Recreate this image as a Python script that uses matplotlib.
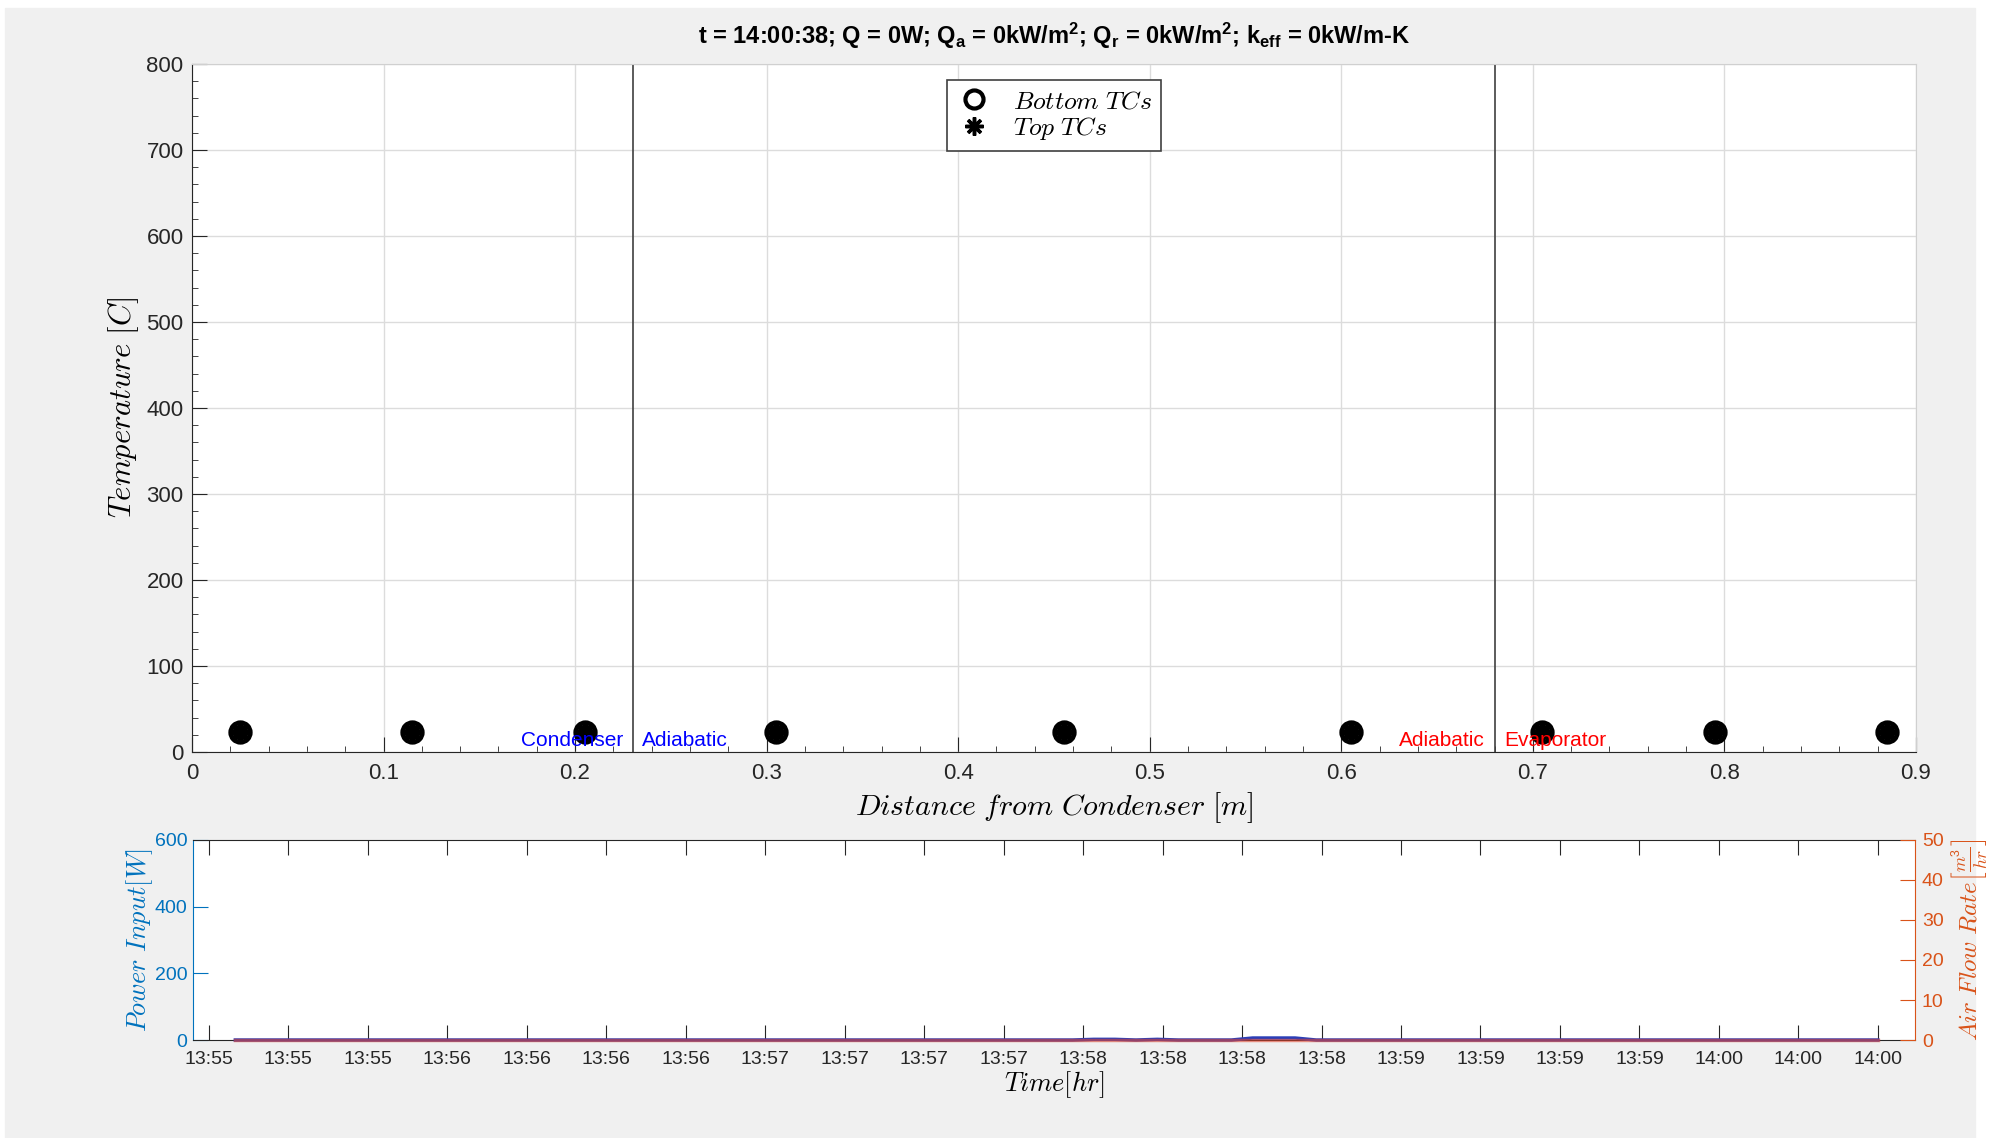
import matplotlib.pyplot as plt
from matplotlib.patches import Rectangle
from matplotlib.lines import Line2D
from matplotlib.ticker import MultipleLocator, FixedLocator, FuncFormatter

plt.rcParams['font.family'] = ['Liberation Sans', 'DejaVu Sans']
plt.rcParams['mathtext.fontset'] = 'cm'
plt.rcParams['mathtext.default'] = 'regular'

# thermocouple positions along the pipe [m] and readings [C]
tc_pos = [0.025, 0.115, 0.205, 0.305, 0.455, 0.605, 0.705, 0.795, 0.885]
bottom_tc = [23, 23, 23, 23, 23, 23, 23, 23, 23]
top_tc = [23, 23, 23, 23, 23, 23, 23, 23, 23]
section_bounds = [0.23, 0.68]

# power / air flow history
trace_times = ['13:55:20', '13:57:58', '13:58:02', '13:58:06', '13:58:10',
               '13:58:14', '13:58:18', '13:58:28', '13:58:32', '13:58:40',
               '13:58:44', '14:00:30']
power_w = [0, 0, 2, 2, 0, 2, 0, 0, 6, 6, 0, 0]
air_flow = [0, 0, 0, 0, 0, 0, 0, 0, 0, 0, 0, 0]
time_ticks = ['13:55:15', '13:55:30', '13:55:45', '13:56:00', '13:56:15',
              '13:56:30', '13:56:45', '13:57:00', '13:57:15', '13:57:30',
              '13:57:45', '13:58:00', '13:58:15', '13:58:30', '13:58:45',
              '13:59:00', '13:59:15', '13:59:30', '13:59:45', '14:00:00',
              '14:00:15', '14:00:30']
time_window = ['13:55:12', '14:00:37']

title = ('t = 14:00:38; Q = 0W; Q$_a$ = 0kW/m$^2$; Q$_r$ = 0kW/m$^2$; '
         'k$_{eff}$ = 0kW/m-K')


def secs(s):
    h, m, sec = (int(v) for v in s.split(':'))
    return h * 3600 + m * 60 + sec


def hhmm(v, pos=None):
    v = int(round(v))
    return '%02d:%02d' % (v // 3600, (v % 3600) // 60)


dark = '#262626'
blue = '#0072BD'
orange = '#D95319'

fig = plt.figure(figsize=(20.1, 11.38), dpi=100)
fig.patch.set_facecolor('white')
fig.patches.append(Rectangle((5 / 2010, 0), 1970 / 2010, 1130 / 1138,
                             transform=fig.transFigure, color='#f0f0f0',
                             zorder=-10))

# ---- temperature profile ----
ax = fig.add_axes([0.0955, 0.3392, 0.8577, 0.6046])
ax.set_xlim(0, 0.9)
ax.set_ylim(0, 800)
ax.xaxis.set_major_locator(MultipleLocator(0.1))
ax.xaxis.set_minor_locator(MultipleLocator(0.02))
ax.yaxis.set_major_locator(MultipleLocator(100))
ax.yaxis.set_minor_locator(MultipleLocator(20))
ax.xaxis.set_major_formatter(FuncFormatter(lambda v, p: '%g' % round(v, 2)))
ax.tick_params(which='both', direction='in', colors=dark, labelsize=16)
ax.tick_params(which='major', length=11)
ax.tick_params(which='minor', length=4.5)
ax.tick_params(axis='x', pad=8)
ax.tick_params(axis='y', pad=6)
ax.grid(True, which='major', color='#dcdcdc', lw=1)
for s in ['left', 'bottom']:
    ax.spines[s].set_color(dark)
for s in ['top', 'right']:
    ax.spines[s].set_color('#d0d0d0')

for xb in section_bounds:
    ax.axvline(xb, color='#404040', lw=1.2, zorder=2)

ax.plot(tc_pos, bottom_tc, 'o', ms=14, mfc='none', mec='black', mew=3.5,
        zorder=4, clip_on=False)
ax.plot(tc_pos, top_tc, ls='none', marker=(8, 2, 0), ms=13, mec='black',
        mew=3.5, zorder=4)

ax.text(section_bounds[0] - 0.005, 13, 'Condenser', color='blue', ha='right',
        va='center', fontsize=15, zorder=5)
ax.text(section_bounds[0] + 0.005, 13, 'Adiabatic', color='blue', ha='left',
        va='center', fontsize=15, zorder=5)
ax.text(section_bounds[1] - 0.005, 13, 'Adiabatic', color='red', ha='right',
        va='center', fontsize=15, zorder=5)
ax.text(section_bounds[1] + 0.005, 13, 'Evaporator', color='red', ha='left',
        va='center', fontsize=15, zorder=5)

ax.set_xlabel(r'$\mathit{Distance\ from\ Condenser}\ \mathrm{[}\mathit{m}\mathrm{]}$',
              fontsize=21.5, labelpad=4)
ax.set_ylabel(r'$\mathit{Temperature}\ \mathrm{[}\mathit{C}\mathrm{]}$',
              fontsize=22, labelpad=4)

handles = [Line2D([], [], ls='none', marker='o', ms=13, mfc='none',
                  mec='black', mew=3),
           Line2D([], [], ls='none', marker=(8, 2, 0), ms=13, mec='black',
                  mew=2.5)]
leg = ax.legend(handles, [r'$\mathit{Bottom\ TCs}$', r'$\mathit{Top\ TCs}$'],
                loc='upper center', bbox_to_anchor=(0.5, 0.976),
                borderaxespad=0, fontsize=18.5, fancybox=False, framealpha=1,
                edgecolor='#404040', handlelength=1.4, handletextpad=0.8,
                borderpad=0.35, labelspacing=0.05)
leg.get_frame().set_linewidth(1.2)

fig.text(1054 / 2010, 1 - 36 / 1138, title, ha='center', va='center',
         fontsize=17, fontweight='bold', color='black')

# ---- power / air flow history ----
t = [secs(s) for s in trace_times]
ax2 = fig.add_axes([0.0960, 0.0861, 0.8567, 0.1758])
ax2r = ax2.twinx()
ax2.set_xlim(secs(time_window[0]), secs(time_window[1]))
ax2.set_ylim(0, 600)
ax2r.set_ylim(0, 50)
ax2.xaxis.set_major_locator(FixedLocator([secs(s) for s in time_ticks]))
ax2.xaxis.set_major_formatter(FuncFormatter(hhmm))
ax2.yaxis.set_major_locator(MultipleLocator(200))
ax2r.yaxis.set_major_locator(MultipleLocator(10))

ax2.plot(t, power_w, color='#2b3fb8', lw=2.5, clip_on=False, zorder=3)
ax2r.plot(t, air_flow, color='#e8452c', lw=2.5, alpha=0.55, clip_on=False,
          zorder=3)

ax2.tick_params(axis='x', direction='in', top=True, length=11, colors=dark,
                labelsize=14, pad=8)
ax2.tick_params(axis='y', direction='in', length=11, color=blue,
                labelcolor=blue, labelsize=14, pad=4)
ax2r.tick_params(axis='y', direction='in', length=11, color=orange,
                 labelcolor=orange, labelsize=14, pad=5)
ax2.spines['left'].set_color(blue)
ax2.spines['right'].set_visible(False)
ax2.spines['top'].set_color(dark)
ax2.spines['bottom'].set_color(dark)
ax2r.spines['left'].set_visible(False)
ax2r.spines['top'].set_visible(False)
ax2r.spines['bottom'].set_visible(False)
ax2r.spines['right'].set_color(orange)

ax2.set_xlabel(r'$\mathit{Time}\mathrm{[}\mathit{hr}\mathrm{]}$', fontsize=19,
               labelpad=1)
ax2.set_ylabel(r'$\mathit{Power\ Input}\mathrm{[}\mathit{W}\mathrm{]}$',
               fontsize=19, color=blue, labelpad=0)
ax2r.set_ylabel(r'$\mathit{Air\ Flow\ Rate}\left[\frac{\mathit{m}^3}{\mathit{hr}}\right]$',
                fontsize=18, color=orange, labelpad=4)

fig.savefig('out.png', dpi=100, facecolor=fig.get_facecolor())
